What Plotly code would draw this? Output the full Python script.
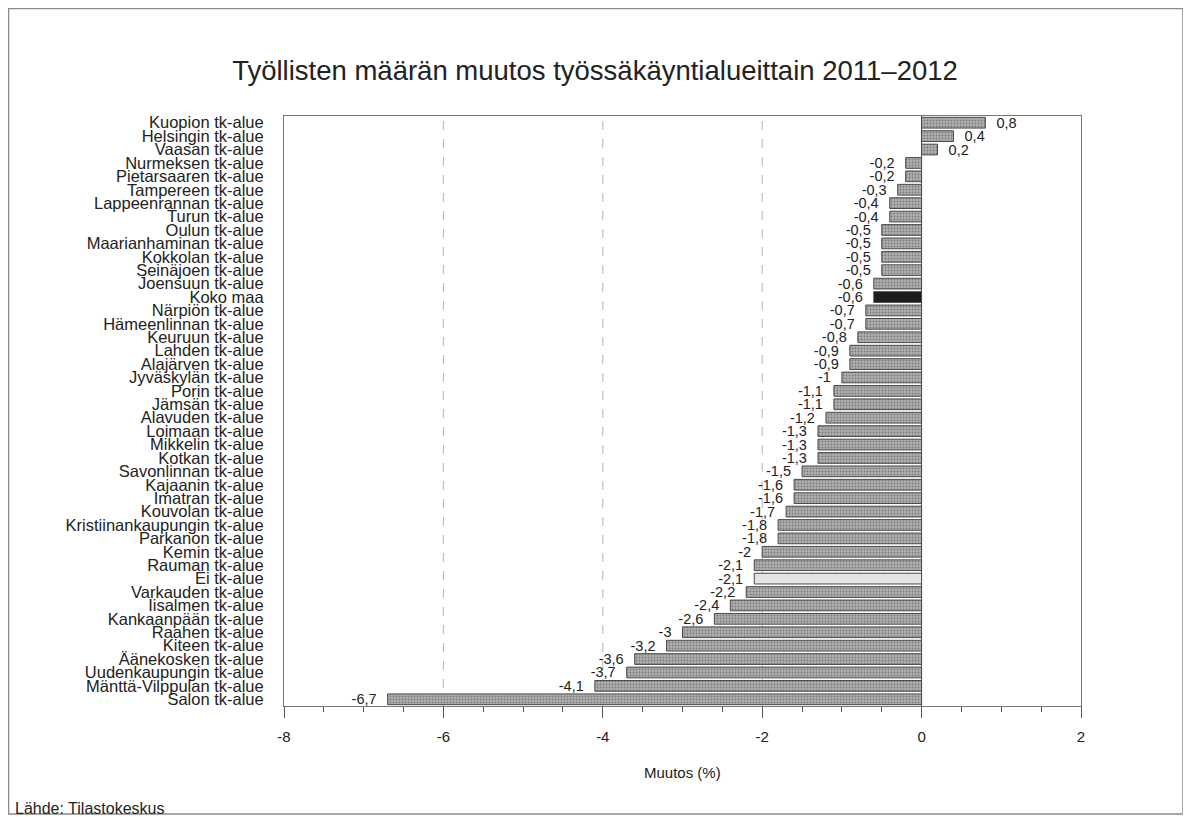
import plotly.graph_objects as go

# työssäkäyntialueet ylhäältä alas
alueet = ["Kuopion tk-alue", "Helsingin tk-alue", "Vaasan tk-alue", "Nurmeksen tk-alue",
          "Pietarsaaren tk-alue", "Tampereen tk-alue", "Lappeenrannan tk-alue", "Turun tk-alue",
          "Oulun tk-alue", "Maarianhaminan tk-alue", "Kokkolan tk-alue", "Seinäjoen tk-alue",
          "Joensuun tk-alue", "Koko maa", "Närpiön tk-alue", "Hämeenlinnan tk-alue",
          "Keuruun tk-alue", "Lahden tk-alue", "Alajärven tk-alue", "Jyväskylän tk-alue",
          "Porin tk-alue", "Jämsän tk-alue", "Alavuden tk-alue", "Loimaan tk-alue",
          "Mikkelin tk-alue", "Kotkan tk-alue", "Savonlinnan tk-alue", "Kajaanin tk-alue",
          "Imatran tk-alue", "Kouvolan tk-alue", "Kristiinankaupungin tk-alue", "Parkanon tk-alue",
          "Kemin tk-alue", "Rauman tk-alue", "Ei tk-alue", "Varkauden tk-alue",
          "Iisalmen tk-alue", "Kankaanpään tk-alue", "Raahen tk-alue", "Kiteen tk-alue",
          "Äänekosken tk-alue", "Uudenkaupungin tk-alue", "Mänttä-Vilppulan tk-alue", "Salon tk-alue"]
muutos = [0.8, 0.4, 0.2, -0.2, -0.2, -0.3, -0.4, -0.4, -0.5, -0.5, -0.5, -0.5, -0.6, -0.6,
          -0.7, -0.7, -0.8, -0.9, -0.9, -1, -1.1, -1.1, -1.2, -1.3, -1.3, -1.3, -1.5, -1.6,
          -1.6, -1.7, -1.8, -1.8, -2, -2.1, -2.1, -2.2, -2.4, -2.6, -3, -3.2, -3.6, -3.7,
          -4.1, -6.7]
x_ticks = [-8, -6, -4, -2, 0, 2]
x_ticktext = ["-8", "-6", "-4", "-2", "0", "2"]
grid_x = [-6, -4, -2]

FONT = "Arial, Liberation Sans, sans-serif"
NB = "\u00a0\u00a0"

def vari(a):
    if a == "Koko maa":
        return "#1c1c1c"
    if a == "Ei tk-alue":
        return "#e4e4e4"
    return "#b0b0b0"

def kuvio(a):
    return "" if a in ("Koko maa", "Ei tk-alue") else "."

tekstit = []
for v in muutos:
    s = ("%g" % v).replace(".", ",")
    tekstit.append(s + NB if v < 0 else NB + s)

fig = go.Figure()
fig.add_trace(go.Bar(
    x=muutos, y=alueet, orientation="h",
    marker=dict(color=[vari(a) for a in alueet], line=dict(color="#4a4a4a", width=1),
                pattern=dict(shape=[kuvio(a) for a in alueet], fgcolor="#8e8e8e",
                             size=3, solidity=0.3, fillmode="overlay")),
    text=tekstit, textposition="outside", cliponaxis=False, constraintext="none",
    textfont=dict(family=FONT, size=14.5, color="#222"),
    hoverinfo="x+y",
))

for g in grid_x:
    fig.add_vline(x=g, line=dict(color="#b5b5b5", width=1, dash="dash"), layer="below")

# sivulla on 8 px marginaali, joten kuva on 8 px pienempi ja koordinaatit siirretty
W, H = 1183, 809
L, R, T, B = 276, 110, 108, 111
pw, ph = W - L - R, H - T - B

# ulkokehys
fig.add_shape(type="rect", xref="paper", yref="paper",
              x0=(0.5 - L) / pw, x1=(1175 - L) / pw,
              y0=(H - B - 806) / ph, y1=(H - B - 0.5) / ph,
              line=dict(color="#8a8a8a", width=1.5))

fig.add_annotation(text="Muutos (%)", xref="paper", yref="paper", x=0.5,
                   y=-(764 - (H - B)) / ph, yanchor="middle", showarrow=False,
                   font=dict(family=FONT, size=15, color="#222"))
fig.add_annotation(text="Lähde: Tilastokeskus", xref="paper", yref="paper",
                   x=(5 - L) / pw, y=-(800 - (H - B)) / ph, xanchor="left", yanchor="middle",
                   showarrow=False, font=dict(family=FONT, size=16, color="#222"))

fig.update_layout(
    width=W, height=H,
    margin=dict(l=L, r=R, t=T, b=B),
    paper_bgcolor="white", plot_bgcolor="white",
    title=dict(text="Työllisten määrän muutos työssäkäyntialueittain 2011–2012",
               x=587 / W, xanchor="center", y=1 - 62 / H, yanchor="middle",
               font=dict(family=FONT, size=27.5, color="#222")),
    showlegend=False,
    bargap=0.2,
    font=dict(family=FONT, size=15, color="#222"),
)
fig.update_xaxes(range=[-8, 2], tickvals=x_ticks, ticktext=x_ticktext, ticks="outside",
                 ticklen=11, tickcolor="#555", showgrid=False, zeroline=True,
                 zerolinecolor="#444", zerolinewidth=1, showline=True, linecolor="#777",
                 mirror=True, ticklabelstandoff=6, tickfont=dict(size=15),
                 minor=dict(dtick=0.5, ticks="outside", ticklen=5, tickcolor="#555"))
fig.update_yaxes(autorange="reversed", tickvals=alueet, showgrid=False, showline=True,
                 linecolor="#777", mirror=True, ticks="", ticklabelstandoff=16,
                 tickfont=dict(size=16.5))

fig.write_html("out.html")
